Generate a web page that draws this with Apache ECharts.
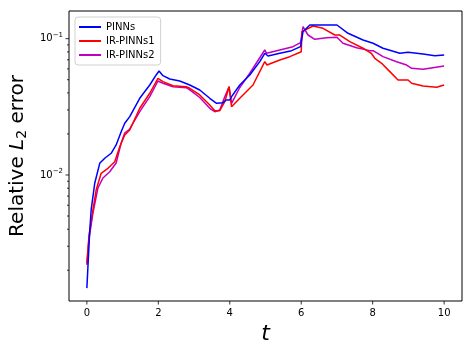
<!DOCTYPE html>
<html>
<head>
<meta charset="utf-8">
<script src="https://cdn.jsdelivr.net/npm/echarts@6/dist/echarts.min.js"></script>
<style>
html, body { margin: 0; padding: 0; background: #fff; }
#chart { width: 473px; height: 355px; }
</style>
</head>
<body>
<div id="chart"></div>
<script>
// readings (t, relative L2 error)
var pinnsT = [0, 0.076, 0.12, 0.22, 0.36, 0.5, 0.68, 0.82, 0.96, 1.06, 1.2, 1.48, 1.76, 1.94, 2.02, 2.13, 2.32, 2.6, 2.88, 3.16, 3.44, 3.63, 3.81, 3.9, 4.0, 4.05, 4.28, 4.56, 4.84, 4.98, 5.07, 5.4, 5.73, 5.98, 6.05, 6.24, 6.61, 7.0, 7.31, 7.73, 8.01, 8.29, 8.76, 8.99, 9.41, 9.74, 10.0]
var pinnsErr = [0.00148, 0.0037, 0.00554, 0.00869, 0.01218, 0.01326, 0.01443, 0.0166, 0.02078, 0.02394, 0.02678, 0.03653, 0.04574, 0.05418, 0.05794, 0.05351, 0.05061, 0.04894, 0.04574, 0.04204, 0.03653, 0.03357, 0.03391, 0.0355, 0.0355, 0.03754, 0.04574, 0.05418, 0.06782, 0.07814, 0.07465, 0.07814, 0.08166, 0.08737, 0.1125, 0.126, 0.126, 0.126, 0.1095, 0.0978, 0.0925, 0.0851, 0.0781, 0.0795, 0.0772, 0.075, 0.0759]

var ir1T = [0, 0.06, 0.17, 0.26, 0.4, 0.59, 0.78, 0.92, 1.06, 1.2, 1.48, 1.76, 1.99, 2.13, 2.41, 2.78, 2.88, 3.16, 3.44, 3.58, 3.72, 3.86, 3.98, 4.05, 4.28, 4.65, 4.98, 5.04, 5.4, 5.68, 6.0, 6.02, 6.33, 6.61, 6.94, 7.08, 7.36, 7.73, 7.96, 8.06, 8.25, 8.48, 8.71, 8.99, 9.09, 9.41, 9.79, 10.0]
var ir1Err = [0.00225, 0.0036, 0.00554, 0.00776, 0.01029, 0.0112, 0.01252, 0.01613, 0.01965, 0.02139, 0.03086, 0.03977, 0.05123, 0.04837, 0.04519, 0.04445, 0.04326, 0.03864, 0.03263, 0.02963, 0.02963, 0.03449, 0.04445, 0.0317, 0.03653, 0.04574, 0.06782, 0.06413, 0.06979, 0.07378, 0.08026, 0.1125, 0.1239, 0.1192, 0.1064, 0.1064, 0.0951, 0.0851, 0.0781, 0.0718, 0.066, 0.0573, 0.0498, 0.0498, 0.0471, 0.045, 0.044, 0.0457]

var ir2T = [0, 0.06, 0.17, 0.31, 0.45, 0.64, 0.82, 0.96, 1.06, 1.2, 1.48, 1.76, 1.99, 2.13, 2.41, 2.78, 2.88, 3.16, 3.44, 3.58, 3.72, 3.86, 3.98, 4.05, 4.28, 4.56, 4.98, 5.03, 5.4, 5.77, 5.98, 6.05, 6.19, 6.38, 6.71, 7.0, 7.17, 7.55, 7.92, 8.01, 8.29, 8.67, 8.95, 9.09, 9.41, 10.0]
var ir2Err = [0.00219, 0.0034, 0.00526, 0.00803, 0.00951, 0.01057, 0.01225, 0.01717, 0.02032, 0.02175, 0.02913, 0.03754, 0.04894, 0.04709, 0.04445, 0.0437, 0.04204, 0.03703, 0.03086, 0.02913, 0.02998, 0.03754, 0.04445, 0.03357, 0.04385, 0.05574, 0.08262, 0.07814, 0.08262, 0.08737, 0.09347, 0.1225, 0.1064, 0.099, 0.1017, 0.1024, 0.0925, 0.0859, 0.0817, 0.0817, 0.0738, 0.0678, 0.0641, 0.0606, 0.0596, 0.0631]

var seriesNames = ['PINNs', 'IR-PINNs1', 'IR-PINNs2']
var seriesColors = ['#0000ff', '#ff0000', '#bf00bf']

var xTicks = [0, 2, 4, 6, 8, 10]
var yMajorTicks = [0.01, 0.1]
var yMinorTicks = [0.002, 0.003, 0.004, 0.005, 0.006, 0.007, 0.008, 0.009,
    0.02, 0.03, 0.04, 0.05, 0.06, 0.07, 0.08, 0.09]

var xMin = -0.5, xMax = 10.5
var yMin = 0.00119, yMax = 0.1596

function zip(ts, vs) {
    var out = []
    for (var i = 0; i < ts.length; i++) out.push([ts[i], vs[i]])
    return out
}

// ticks drawn through the axes' own scales: [x, y, kind] 0 = x, 1 = y major, 2 = y minor
var tickData = []
xTicks.forEach(function (t) { tickData.push([t, yMin, 0]) })
yMajorTicks.forEach(function (v) { tickData.push([xMin, v, 1]) })
yMinorTicks.forEach(function (v) { tickData.push([xMin, v, 2]) })

var chart = echarts.init(document.getElementById('chart'))

var lines = [zip(pinnsT, pinnsErr), zip(ir1T, ir1Err), zip(ir2T, ir2Err)].map(function (d, i) {
    return {
        name: seriesNames[i],
        type: 'line',
        data: d,
        symbol: 'none',
        smooth: false,
        color: seriesColors[i],
        lineStyle: { color: seriesColors[i], width: 1.5 },
        animation: false,
        z: 3 - i
    }
})

lines.push({
    name: 'ticks',
    type: 'custom',
    data: tickData,
    clip: false,
    silent: true,
    animation: false,
    renderItem: function (params, api) {
        var p = api.coord([api.value(0), api.value(1)])
        var kind = api.value(2)
        var shape
        if (kind === 0) shape = { x1: p[0], y1: p[1], x2: p[0], y2: p[1] + 3.5 }
        else if (kind === 1) shape = { x1: p[0] - 3.5, y1: p[1], x2: p[0], y2: p[1] }
        else shape = { x1: p[0] - 2, y1: p[1], x2: p[0], y2: p[1] }
        return { type: 'line', shape: shape, style: { stroke: '#000', lineWidth: 0.8 } }
    }
})

chart.setOption({
    animation: false,
    textStyle: { fontFamily: 'DejaVu Sans' },
    grid: {
        left: 69,
        right: 11,
        top: 11,
        bottom: 54,
        show: true,
        borderColor: '#000',
        borderWidth: 1
    },
    legend: {
        data: seriesNames,
        orient: 'vertical',
        left: 75,
        top: 17,
        icon: 'rect',
        itemWidth: 22,
        itemHeight: 2,
        itemGap: 4,
        padding: [5, 6, 5, 4],
        backgroundColor: '#fff',
        borderColor: '#d0d0d0',
        borderWidth: 1,
        borderRadius: 3,
        textStyle: { fontSize: 10, color: '#000', fontFamily: 'DejaVu Sans', lineHeight: 10 }
    },
    xAxis: {
        type: 'value',
        min: xMin,
        max: xMax,
        name: 't',
        nameLocation: 'middle',
        nameGap: 18,
        nameTextStyle: { fontSize: 22, fontStyle: 'italic', color: '#000', fontFamily: 'DejaVu Sans' },
        splitLine: { show: false },
        axisLine: { show: false },
        axisTick: { show: false },
        axisLabel: {
            fontSize: 10,
            color: '#000',
            margin: 7,
            showMinLabel: false,
            showMaxLabel: false,
            formatter: function (v) { return xTicks.indexOf(v) >= 0 ? String(v) : '' }
        }
    },
    yAxis: {
        type: 'log',
        logBase: 10,
        min: yMin,
        max: yMax,
        name: 'Relative {i|L}{sub|2} error',
        nameLocation: 'middle',
        nameGap: 28,
        nameRotate: 90,
        nameTextStyle: {
            fontSize: 20,
            color: '#000',
            fontFamily: 'DejaVu Sans',
            rich: {
                i: { fontSize: 20, fontStyle: 'italic', color: '#000', fontFamily: 'DejaVu Sans' },
                sub: { fontSize: 14, color: '#000', fontFamily: 'DejaVu Sans', padding: [8, 0, 0, 0] }
            }
        },
        splitLine: { show: false },
        axisLine: { show: false },
        axisTick: { show: false },
        axisLabel: {
            color: '#000',
            fontSize: 10,
            margin: 6,
            formatter: function (v) {
                var e = Math.round(Math.log10(v))
                if (Math.abs(v - Math.pow(10, e)) / v > 1e-6) return ''
                return '10{sup|\u2212' + (-e) + '}'
            },
            rich: {
                sup: { fontSize: 7, color: '#000', verticalAlign: 'bottom', padding: [0, 0, 7, 0] }
            }
        }
    },
    series: lines
})
</script>
</body>
</html>
